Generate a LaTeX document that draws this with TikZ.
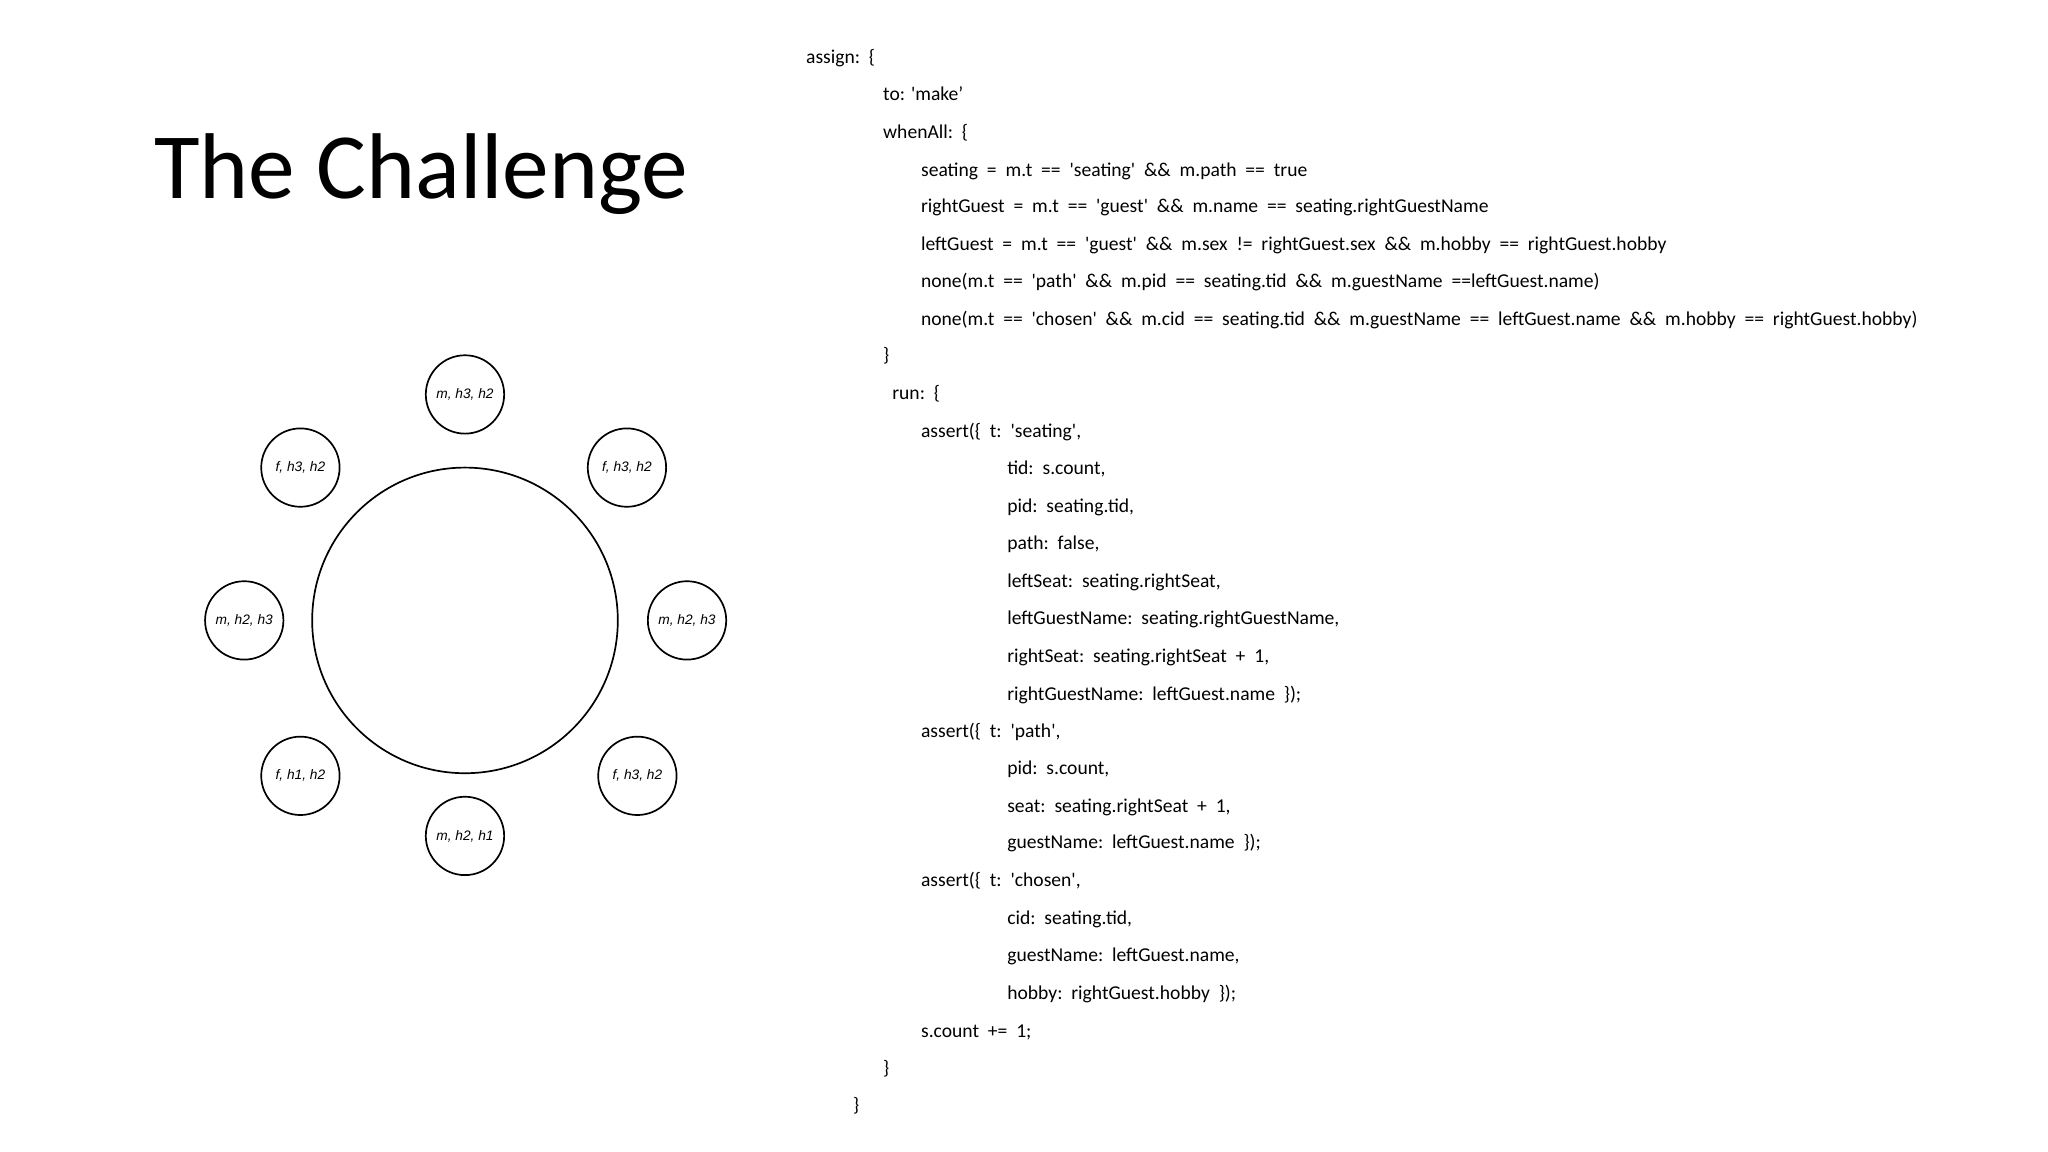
\documentclass[tikz,border=0pt]{standalone}
\usepackage{fontspec}
\setmainfont{Carlito}
\newfontfamily\codefont{Carlito}
\newfontfamily\seatfont{Liberation Sans}
\begin{document}
\begin{tikzpicture}[x=1pt,y=-1pt,
  code/.style={anchor=base west,inner sep=0pt,font=\codefont\fontsize{15}{17}\selectfont},
  seat/.style={circle,draw,line width=1.3pt,minimum size=60pt,inner sep=0pt,font=\seatfont\itshape\fontsize{10.5}{11}\selectfont},
  table/.style={circle,draw,line width=1.3pt,minimum size=234pt,inner sep=0pt}]
\useasboundingbox (0,0) rectangle (1568,882);
\node[anchor=base west,inner sep=0pt,font=\fontsize{71.5}{75}\selectfont] (title) at (118,152) {The Challenge};
\node[table] (tab) at (356,475) {};
\node[seat] (s1) at (356,302) {m, h3, h2};
\node[seat] (s2) at (230,358) {f, h3, h2};
\node[seat] (s3) at (480,358) {f, h3, h2};
\node[seat] (s4) at (187,475) {m, h2, h3};
\node[seat] (s5) at (526,475) {m, h2, h3};
\node[seat] (s6) at (230,594) {f, h1, h2};
\node[seat] (s7) at (488,594) {f, h3, h2};
\node[seat] (s8) at (356,640) {m, h2, h1};
\foreach \n/\x/\y/\t in {
 c1/617/44/{assign:\ \ \{},
 c2/676/72/{to: 'make’},
 c3/676/101/{whenAll:\ \ \{},
 c4/705/130/{seating\ \ =\ \ m.t\ \ ==\ \ 'seating'\ \ \&\&\ \ m.path\ \ ==\ \ true},
 c5/705/158/{rightGuest\ \ =\ \ m.t\ \ ==\ \ 'guest'\ \ \&\&\ \ m.name\ \ ==\ \ seating.rightGuestName},
 c6/705/187/{leftGuest\ \ =\ \ m.t\ \ ==\ \ 'guest'\ \ \&\&\ \ m.sex\ \ !=\ \ rightGuest.sex\ \ \&\&\ \ m.hobby\ \ ==\ \ rightGuest.hobby},
 c7/705/215/{none(m.t\ \ ==\ \ 'path'\ \ \&\&\ \ m.pid\ \ ==\ \ seating.tid\ \ \&\&\ \ m.guestName\ \ ==leftGuest.name)},
 c8/705/244/{none(m.t\ \ ==\ \ 'chosen'\ \ \&\&\ \ m.cid\ \ ==\ \ seating.tid\ \ \&\&\ \ m.guestName\ \ ==\ \ leftGuest.name\ \ \&\&\ \ m.hobby\ \ ==\ \ rightGuest.hobby)},
 c9/676/272/{\}},
 c10/683/301/{run:\ \ \{},
 c11/705/330/{assert(\{\ \ t:\ \ 'seating',},
 c12/771/358/{tid:\ \ s.count,},
 c13/771/387/{pid:\ \ seating.tid,},
 c14/771/416/{path:\ \ false,},
 c15/771/445/{leftSeat:\ \ seating.rightSeat,},
 c16/771/473/{leftGuestName:\ \ seating.rightGuestName,},
 c17/771/502/{rightSeat:\ \ seating.rightSeat\ \ +\ \ 1,},
 c18/771/531/{rightGuestName:\ \ leftGuest.name\ \ \});},
 c19/705/560/{assert(\{\ \ t:\ \ 'path',},
 c20/771/588/{pid:\ \ s.count,},
 c21/771/617/{seat:\ \ seating.rightSeat\ \ +\ \ 1,},
 c22/771/645/{guestName:\ \ leftGuest.name\ \ \});},
 c23/705/674/{assert(\{\ \ t:\ \ 'chosen',},
 c24/771/703/{cid:\ \ seating.tid,},
 c25/771/731/{guestName:\ \ leftGuest.name,},
 c26/771/760/{hobby:\ \ rightGuest.hobby\ \ \});},
 c27/705/789/{s.count\ \ +=\ \ 1;},
 c28/676/818/{\}},
 c29/653/846/{\}}}
 \node[code] (\n) at (\x,\y+5) {\t};
\end{tikzpicture}
\end{document}
